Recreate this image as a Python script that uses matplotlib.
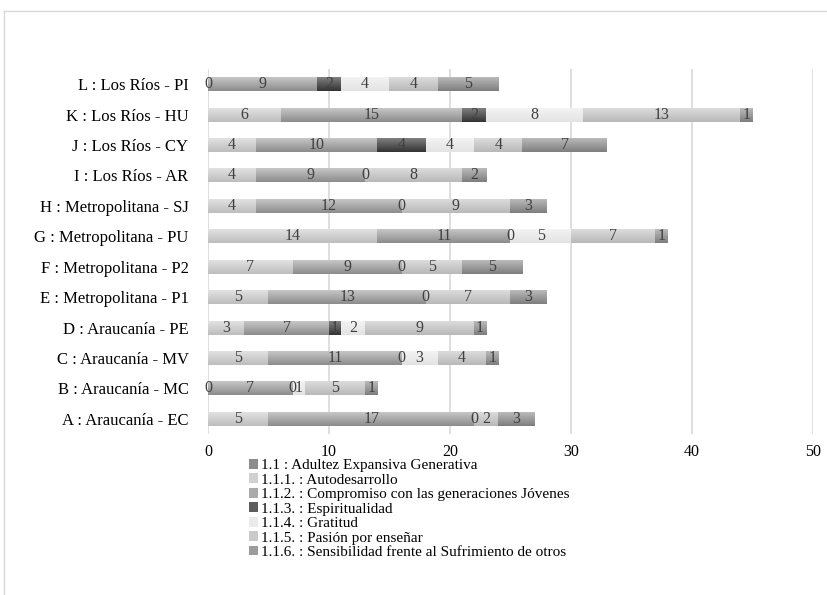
import numpy as np
import matplotlib
matplotlib.use("Agg")
import matplotlib.pyplot as plt
from matplotlib.colors import LinearSegmentedColormap
from matplotlib.patches import Rectangle
from matplotlib.lines import Line2D

plt.rcParams['font.family'] = ['Liberation Serif', 'DejaVu Serif']

# categories, bottom to top
categories = ["A : Araucanía - EC", "B : Araucanía - MC", "C : Araucanía - MV",
              "D : Araucanía - PE", "E : Metropolitana - P1", "F : Metropolitana - P2",
              "G : Metropolitana - PU", "H : Metropolitana - SJ", "I : Los Ríos - AR",
              "J : Los Ríos - CY", "K : Los Ríos - HU", "L : Los Ríos - PI"]

series_names = ["1.1 : Adultez Expansiva Generativa",
                "1.1.1. : Autodesarrollo",
                "1.1.2. : Compromiso con las generaciones Jóvenes",
                "1.1.3. : Espiritualidad",
                "1.1.4. : Gratitud",
                "1.1.5. : Pasión por enseñar",
                "1.1.6. : Sensibilidad frente al Sufrimiento de otros"]

nan = np.nan
s_1_1   = [nan] * 12
s_1_1_1 = [5, 0, 5, 3, 5, 7, 14, 4, 4, 4, 6, 0]
s_1_1_2 = [17, 7, 11, 7, 13, 9, 11, 12, 9, 10, 15, 9]
s_1_1_3 = [0, 0, 0, 1, 0, 0, 0, 0, 0, 4, 2, 2]
s_1_1_4 = [nan, 1, 3, 2, nan, nan, 5, nan, nan, 4, 8, 4]
s_1_1_5 = [2, 5, 4, 9, 7, 5, 7, 9, 8, 4, 13, 4]
s_1_1_6 = [3, 1, 1, 1, 3, 5, 1, 3, 2, 7, 1, 5]
series = [s_1_1, s_1_1_1, s_1_1_2, s_1_1_3, s_1_1_4, s_1_1_5, s_1_1_6]

x_ticks = [0, 10, 20, 30, 40, 50]

# gradient (top, bottom) colours per series
grad = [("#a8a8a8", "#6e6e6e"),
        ("#e2e2e2", "#bdbdbd"),
        ("#c6c6c6", "#8c8c8c"),
        ("#808080", "#333333"),
        ("#f3f3f3", "#e3e3e3"),
        ("#dcdcdc", "#b8b8b8"),
        ("#bababa", "#7e7e7e")]
mid = ["#8c8c8c", "#d0d0d0", "#a9a9a9", "#5c5c5c", "#ebebeb", "#cacaca", "#9c9c9c"]

fig = plt.figure(figsize=(8.28, 5.95), dpi=100)
ax = fig.add_axes([208 / 828, 1 - 434 / 595, (812.7 - 208) / 828, (434 - 69) / 595])

y = np.arange(len(categories))
h = 0.46
left = np.zeros(len(categories))
for si, vals in enumerate(series):
    v = np.array(vals, dtype=float)
    bars = ax.barh(y, v, left=left, height=h, color=mid[si], edgecolor='none', zorder=2)
    cmap = LinearSegmentedColormap.from_list("g%d" % si, [grad[si][0], grad[si][1]])
    for p in bars.patches:
        w = p.get_width()
        if np.isfinite(w) and w > 0:
            x0, y0, hh = p.get_x(), p.get_y(), p.get_height()
            ax.imshow(np.linspace(0, 1, 64).reshape(-1, 1), extent=(x0, x0 + w, y0, y0 + hh),
                      origin='upper', cmap=cmap, aspect='auto', interpolation='bilinear', zorder=3)
    for i, val in enumerate(v):
        if np.isfinite(val):
            ax.text(left[i] + val / 2, y[i], "%d" % val, ha='center', va='center',
                    fontsize=11.5, color='#404040', zorder=5)
    left = left + np.nan_to_num(v)

ax.set_xlim(0, 50)
ax.set_ylim(-0.5, len(categories) - 0.5)
ax.set_xticks(x_ticks)
ax.set_xticklabels([str(t) for t in x_ticks], fontsize=11.5, color='#000000')
ax.set_yticks(y)
ax.set_yticklabels(categories, fontsize=12, color='#000000')
ax.tick_params(axis='x', length=0, pad=7)
ax.tick_params(axis='y', length=0, pad=14)
for s in ax.spines.values():
    s.set_visible(False)
ax.set_axisbelow(True)
ax.grid(axis='x', color='#d9d9d9', linewidth=1.2, zorder=0)

handles = [Rectangle((0, 0), 1, 1, facecolor=mid[i], edgecolor='none') for i in range(len(series_names))]
fig.legend(handles, series_names, loc='upper left', bbox_to_anchor=(249 / 828, 1 - 459 / 595),
           frameon=False, fontsize=11, handlelength=0.6, handleheight=0.6,
           handletextpad=0.2, labelspacing=0.08, borderaxespad=0, borderpad=0)

# chart border
fig.add_artist(Line2D([4 / 828, 1.0], [1 - 11 / 595, 1 - 11 / 595], color='#d9d9d9', linewidth=1))
fig.add_artist(Line2D([4 / 828, 4 / 828], [0, 1 - 11 / 595], color='#d9d9d9', linewidth=1))

fig.savefig("out.png", dpi=100)
